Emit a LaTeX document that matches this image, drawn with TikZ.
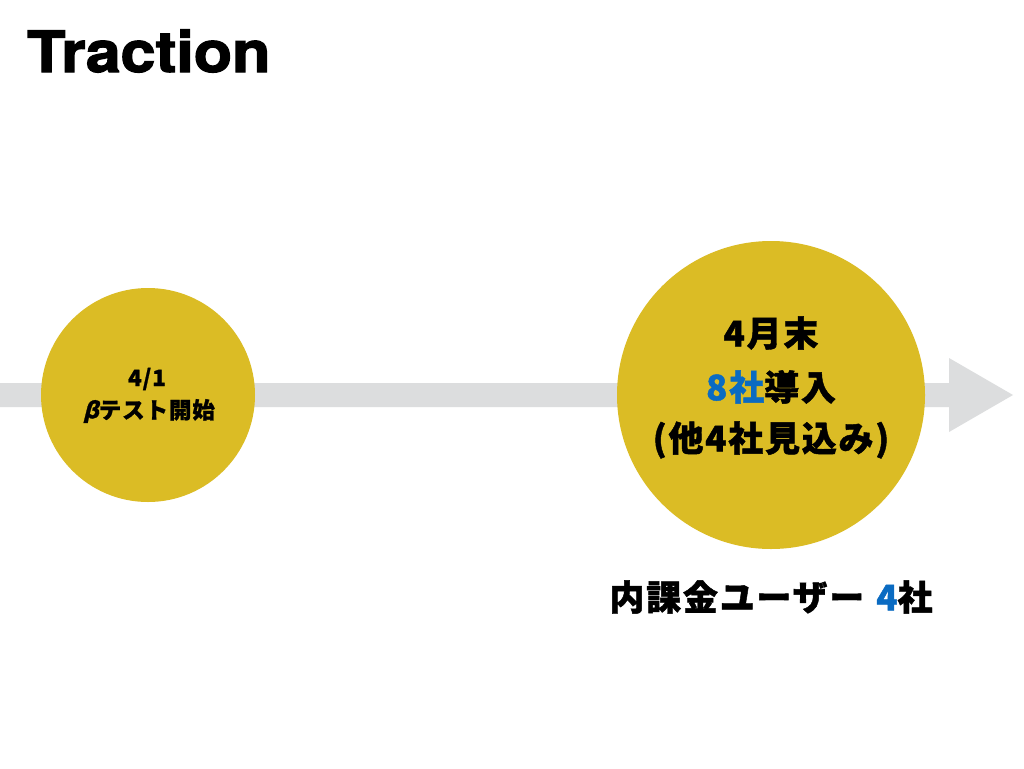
\documentclass[tikz,border=0pt]{standalone}
\usepackage{fontspec}
\setmainfont{TeX Gyre Heros}
\newfontfamily\cjk[LetterSpace=5,FakeBold=1.3]{Noto Sans CJK JP}
\newfontfamily\cjksm[LetterSpace=4,FakeBold=1]{Noto Sans CJK JP}
\newfontfamily\titlefont[FakeBold=2]{TeX Gyre Heros}
\definecolor{gold}{HTML}{DBBC25}
\definecolor{bar}{HTML}{DCDDDE}
\definecolor{accent}{HTML}{0A6BC2}
\tikzset{
  milestone/.style={circle, fill=gold, draw=none, inner sep=0pt},
  lbl/.style={align=center, inner sep=0pt},
  big/.style={lbl, font=\fontsize{35}{40}\selectfont\cjk\bfseries},
  small/.style={lbl, font=\fontsize{22.5}{26}\selectfont\cjksm\bfseries},
}
\begin{document}
\begin{tikzpicture}[x=1pt,y=-1pt]
\useasboundingbox[fill=white] (0,0) rectangle (1024,768);
% timeline arrow
\fill[bar] (0,383) -- (949,383) -- (949,358) -- (1013,395) -- (949,432) -- (949,407) -- (0,407) -- cycle;
\coordinate (start) at (0,395);
\coordinate (tip) at (1013,395);
% title
\node[anchor=base west, inner sep=0pt, font=\fontsize{57}{60}\selectfont\titlefont\bfseries] (title) at (27,72) {\scalebox{1.1}[1]{Traction}};
% circles
\node[milestone, minimum size=214pt] (c1) at (148,395) {};
\node[milestone, minimum size=308pt] (c2) at (771,395) {};
% left text
\node[small] (t1a) at (147,379) {4/1};
\node[small] (t1b) at (149,411) {{\addfontfeature{FakeSlant=0.25}β}テスト開始};
% right text
\node[big] (t2a) at (771,333) {4月末};
\node[big] (t2b) at (771,387) {\textcolor{accent}{8社}導入};
\node[big] (t2c) at (771,440) {(他4社見込み)};
% bottom text
\node[big] (t3) at (771,597) {内課金ユーザー\hspace{12pt}\textcolor{accent}{4}社};
\end{tikzpicture}
\end{document}
